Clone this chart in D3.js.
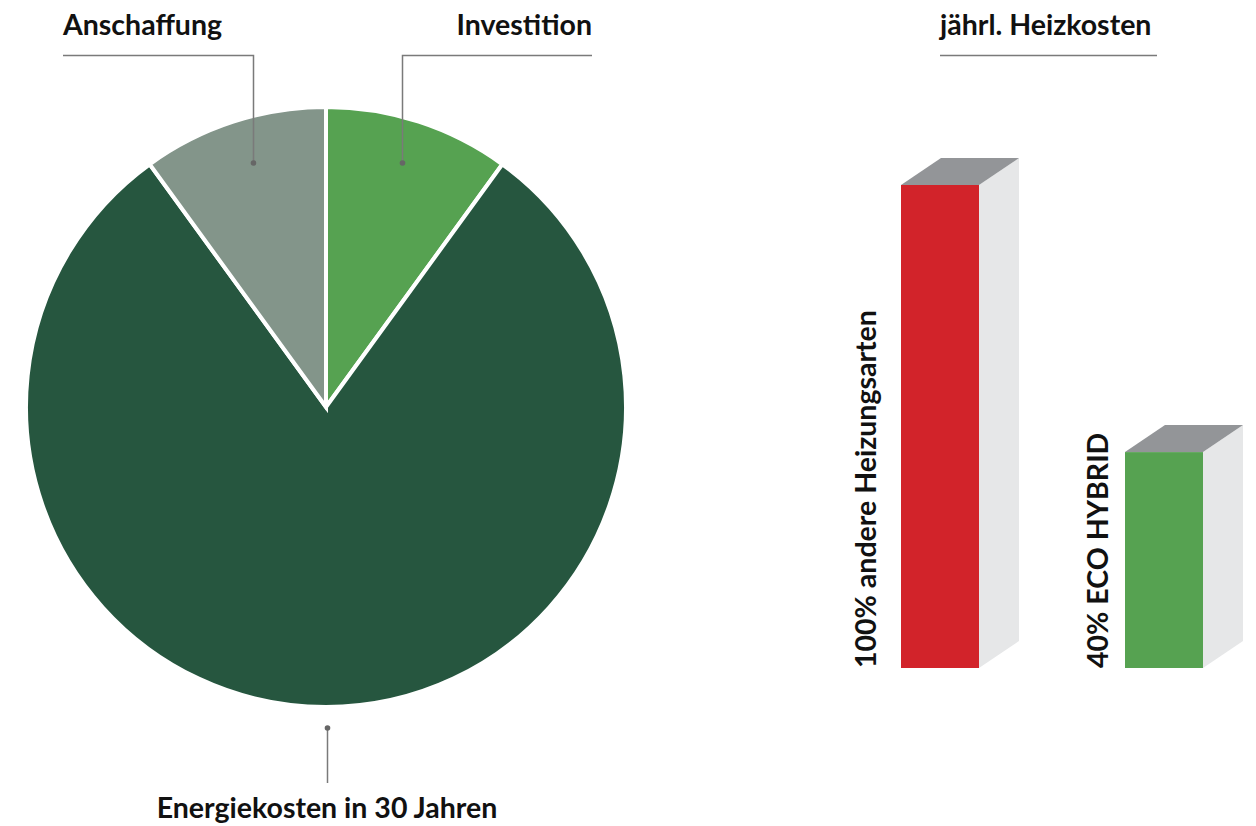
<!DOCTYPE html>
<html><head><meta charset="utf-8">
<script src="https://cdn.jsdelivr.net/npm/d3@7"></script>
<style>
html,body{margin:0;padding:0;background:#fff;}
text{font-family:Lato,"Open Sans",sans-serif;font-weight:700;fill:#111;}
</style></head>
<body><svg id="c" width="1256" height="826"></svg>
<script>
// ---- data ----
const pieLabels = ["Investition", "Energiekosten in 30 Jahren", "Anschaffung"];
const pieValues = [10, 80, 10];
const pieColors = ["#56a251", "#26563f", "#83958a"];

const barCategories = ["andere Heizungsarten", "ECO HYBRID"];
const barLabels = ["100% andere Heizungsarten", "40% ECO HYBRID"];
const barValues = [100, 44.7];
const barColors = ["#d2232a", "#56a251"];
const barTitle = "jährl. Heizkosten";

const svg = d3.select("#c");
const FS = 28.5;

// ---- pie ----
const cx = 326, cy = 407, R = 300;
const pie = d3.pie().sort(null).value(d => d)(pieValues);
const arc = d3.arc().innerRadius(0).outerRadius(R);
const g = svg.append("g").attr("transform", `translate(${cx},${cy})`);
g.selectAll("path").data(pie).join("path")
  .attr("d", arc)
  .attr("fill", (d, i) => pieColors[i])
  .attr("stroke", "#fff").attr("stroke-width", 4).attr("stroke-linejoin", "miter");

const lineCol = "#7a7a7a";
function dot(x, y) { svg.append("circle").attr("cx", x).attr("cy", y).attr("r", 2.8).attr("fill", "#666"); }
// Anschaffung (index 2)
svg.append("path").attr("d", "M63,55.5H253.5V163").attr("fill", "none").attr("stroke", lineCol).attr("stroke-width", 1.5);
dot(253.5, 163);
svg.append("text").attr("x", 63).attr("y", 35).attr("font-size", FS).text(pieLabels[2]);
// Investition (index 0)
svg.append("path").attr("d", "M592,55.5H402.5V163").attr("fill", "none").attr("stroke", lineCol).attr("stroke-width", 1.5);
dot(402.5, 163);
svg.append("text").attr("x", 592).attr("y", 35).attr("text-anchor", "end").attr("font-size", FS).text(pieLabels[0]);
// Energiekosten (index 1)
svg.append("path").attr("d", "M327.5,728V783").attr("fill", "none").attr("stroke", lineCol).attr("stroke-width", 1.5);
dot(327.5, 728);
svg.append("text").attr("x", 327).attr("y", 818).attr("text-anchor", "middle").attr("font-size", FS).text(pieLabels[1]);

// ---- bars ----
const y = d3.scaleLinear().domain([0, 100]).range([668, 185]);
const x = d3.scalePoint().domain(barCategories).range([940, 1164]);
const bw = 78, dx = 40, dy = -27;

svg.append("text").attr("x", 940).attr("y", 35).attr("font-size", FS).text(barTitle);
svg.append("line").attr("x1", 940).attr("x2", 1157).attr("y1", 55.5).attr("y2", 55.5).attr("stroke", lineCol).attr("stroke-width", 1.5);

barCategories.forEach((c, i) => {
  const x0 = x(c) - bw / 2, x1 = x0 + bw, yt = y(barValues[i]), yb = y(0);
  svg.append("path").attr("d", `M${x1},${yt}L${x1 + dx},${yt + dy}L${x1 + dx},${yb + dy}L${x1},${yb}Z`).attr("fill", "#e6e7e8");
  svg.append("path").attr("d", `M${x0},${yt}L${x0 + dx},${yt + dy}L${x1 + dx},${yt + dy}L${x1},${yt}Z`).attr("fill", "#939598");
  svg.append("rect").attr("x", x0).attr("y", yt).attr("width", bw).attr("height", yb - yt).attr("fill", barColors[i]);
  const lx = i === 0 ? x0 - 25 : x0 - 17;
  svg.append("text").attr("transform", `translate(${lx},${yb}) rotate(-90)`)
    .attr("font-size", FS).text(barLabels[i]);
});
</script></body></html>
